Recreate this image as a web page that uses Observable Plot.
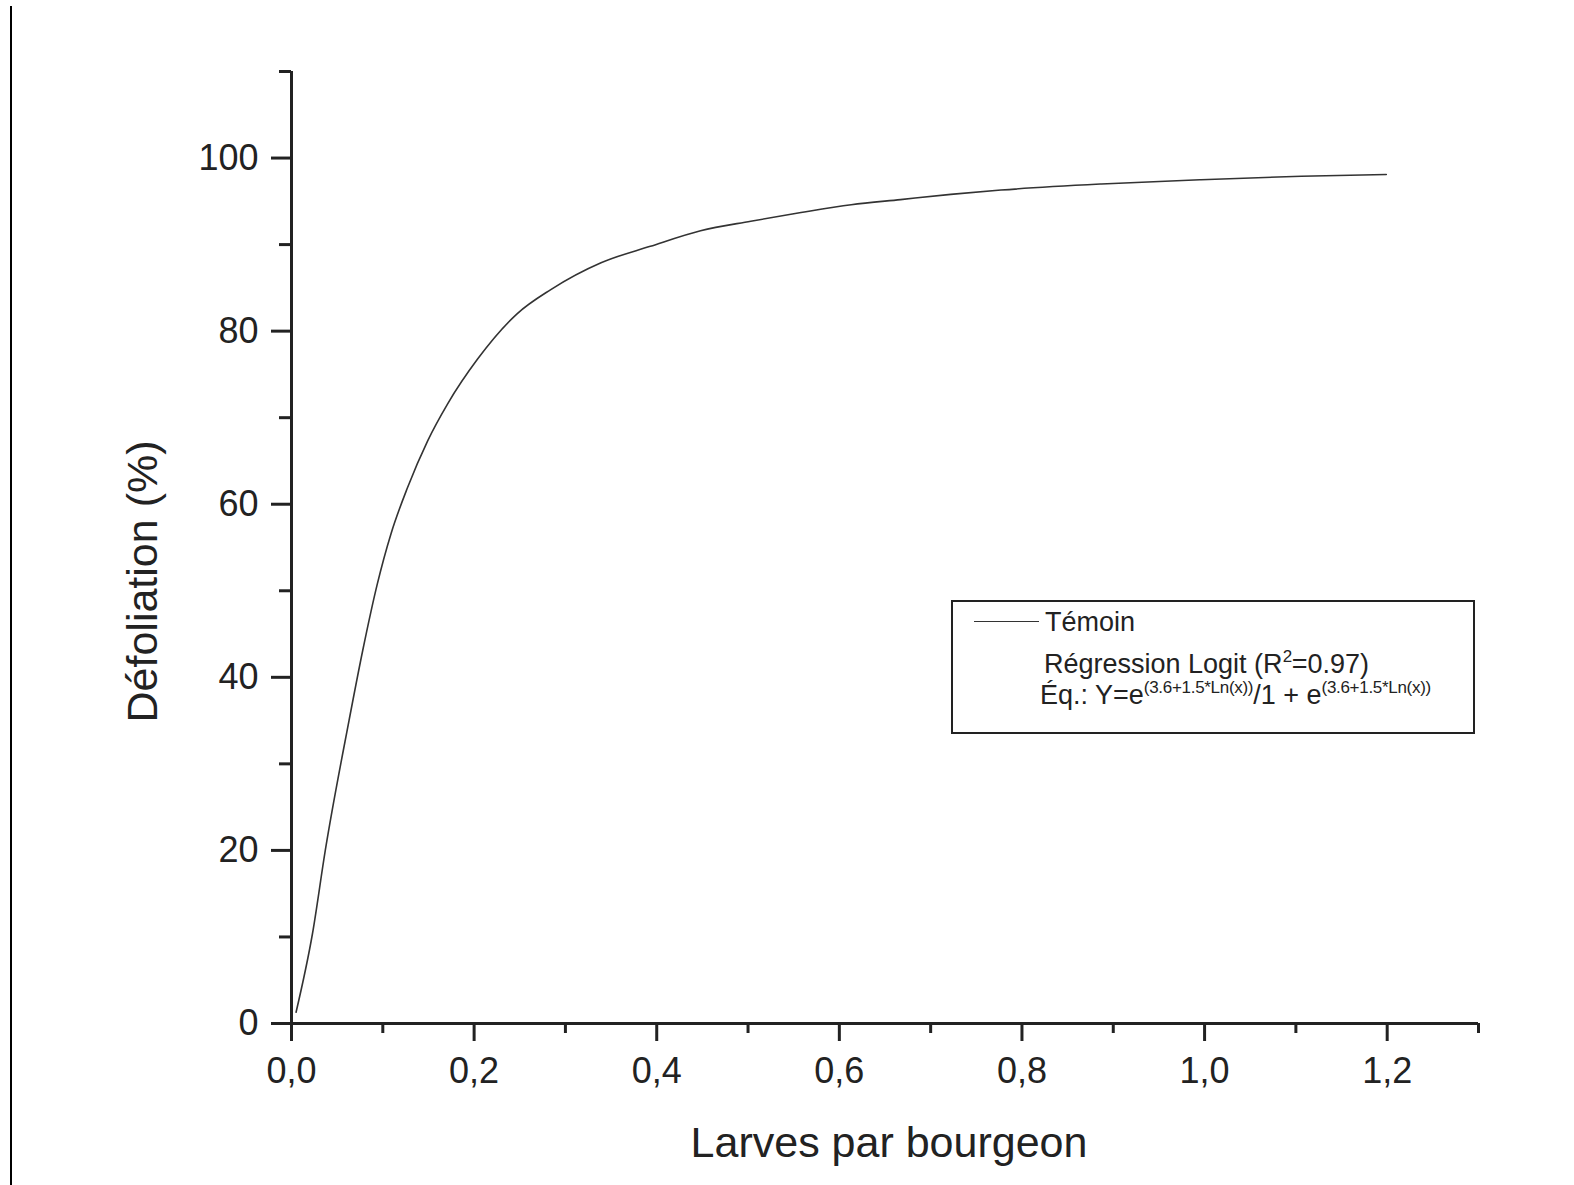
<!DOCTYPE html>
<html>
<head>
<meta charset="utf-8">
<script src="https://cdn.jsdelivr.net/npm/d3@7"></script>
<script src="https://cdn.jsdelivr.net/npm/@observablehq/plot@0.6"></script>
<style>
  html, body { margin: 0; padding: 0; background: #fff; }
  #wrap { position: relative; width: 1574px; height: 1185px; overflow: hidden; font-family: "Liberation Sans", Arial, sans-serif; color: #222; }
  #border { position: absolute; left: 10px; top: 6px; width: 2px; height: 1179px; background: #000; }
  #legend { position: absolute; left: 951px; top: 600px; width: 524px; height: 134px; box-sizing: border-box; border: 2px solid #222; }
  #legend .ln { position: absolute; left: 21px; top: 19px; width: 65px; border-top: 1.5px solid #333; }
  #legend .t { position: absolute; font-size: 27px; line-height: 30px; white-space: nowrap; color: #222; }
  #legend sup { font-size: 17px; vertical-align: 11px; line-height: 0; letter-spacing: -0.3px; }
</style>
</head>
<body>
<div id="wrap">
  <div id="chart"></div>
  <div id="border"></div>
  <div id="legend">
    <div class="ln"></div>
    <div class="t" style="left:92px; top:5px;">Témoin</div>
    <div class="t" style="left:91px; top:47px;">Régression Logit (R<sup>2</sup>=0.97)</div>
    <div class="t" style="left:87px; top:78px;">Éq.: Y=e<sup>(3.6+1.5*Ln(x))</sup>/1 + e<sup>(3.6+1.5*Ln(x))</sup></div>
  </div>
</div>
<script>
// Curve: larvae per bud (x) vs defoliation % (y)
const larves = [0.005, 0.023, 0.037, 0.063, 0.078, 0.094, 0.109, 0.127, 0.149, 0.171, 0.204, 0.247, 0.284, 0.339, 0.393, 0.448, 0.503, 0.558, 0.613, 0.667, 0.722, 0.777, 0.887, 0.996, 1.106, 1.199];
const defoliation = [1.3, 10.4, 20.0, 35.0, 43.1, 50.8, 56.6, 61.9, 67.3, 71.6, 76.8, 82.0, 84.8, 87.9, 89.8, 91.6, 92.7, 93.7, 94.6, 95.2, 95.8, 96.3, 97.0, 97.5, 97.9, 98.1];

const xMajor = [0, 0.2, 0.4, 0.6, 0.8, 1.0, 1.2];
const xMinor = [0.1, 0.3, 0.5, 0.7, 0.9, 1.1, 1.3];
const yMajor = [0, 20, 40, 60, 80, 100];
const yMinor = [10, 30, 50, 70, 90, 110];

const xTitle = "Larves par bourgeon";
const yTitle = "Défoliation (%)";

const data = larves.map((x, i) => ({x, y: defoliation[i]}));
const ink = "#222";
const fmt = d => d.toFixed(1).replace(".", ",");

const chart = Plot.plot({
  width: 1574,
  height: 1185,
  marginLeft: 291,
  marginRight: 96,
  marginTop: 71,
  marginBottom: 162,
  style: {background: "transparent", color: ink, fontFamily: "'Liberation Sans', Arial, sans-serif"},
  x: {domain: [0, 1.3]},
  y: {domain: [0, 110]},
  marks: [
    Plot.line(data, {x: "x", y: "y", curve: "monotone-x", stroke: "#333", strokeWidth: 1.6}),
    Plot.ruleX([0], {stroke: ink, strokeWidth: 3}),
    Plot.ruleY([0], {stroke: ink, strokeWidth: 3}),
    Plot.axisY({ticks: yMajor, tickSize: 20, tickPadding: 13, fontSize: 36, strokeWidth: 3, stroke: ink, fill: ink, label: null}),
    Plot.axisY({ticks: yMinor, tickSize: 12, tickFormat: () => "", strokeWidth: 3, stroke: ink, label: null}),
    Plot.axisX({ticks: xMajor, tickFormat: fmt, tickSize: 18, tickPadding: 16, fontSize: 36, strokeWidth: 3, stroke: ink, fill: ink, label: null}),
    Plot.axisX({ticks: xMinor, tickSize: 10, tickFormat: () => "", strokeWidth: 3, stroke: ink, label: null}),
    Plot.text([xTitle], {frameAnchor: "bottom", textAnchor: "middle", lineAnchor: "middle", dx: 4, dy: 120, fontSize: 43, fill: ink}),
    Plot.text([yTitle], {frameAnchor: "left", textAnchor: "middle", lineAnchor: "middle", rotate: -90, dx: -148, dy: 34, fontSize: 43, fill: ink})
  ]
});
document.getElementById("chart").appendChild(chart);
</script>
</body>
</html>
